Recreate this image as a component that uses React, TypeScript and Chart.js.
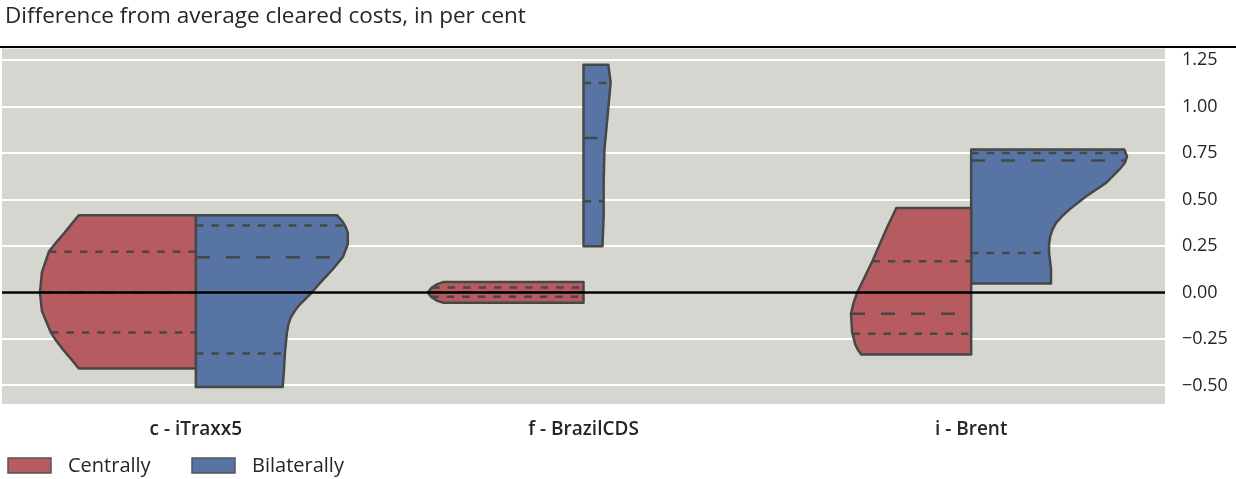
import React, { useEffect, useRef } from "react";
import { Chart, registerables } from "chart.js";

Chart.register(...registerables);

const titleText = "Difference from average cleared costs, in per cent";
const categories = ["c - iTraxx5", "f - BrazilCDS", "i - Brent"];
const seriesNames = ["Centrally", "Bilaterally"];
const seriesColors = ["#b65b5f", "#5774a5"];
const yTicks = [-0.5, -0.25, 0, 0.25, 0.5, 0.75, 1.0, 1.25];

// Kernel density profiles: y levels (per cent) and half-widths (category units)
const itraxxCentralY = [-0.409, -0.36, -0.306, -0.26, -0.215, -0.1, 0.0, 0.11, 0.22, 0.27, 0.321, 0.38, 0.416];
const itraxxCentralW = [0.302, 0.321, 0.343, 0.36, 0.374, 0.397, 0.402, 0.397, 0.379, 0.36, 0.339, 0.316, 0.302];
const itraxxCentralQ = [-0.215, 0.0, 0.219];

const itraxxBilateralY = [-0.509, -0.43, -0.32, -0.215, -0.17, -0.134, -0.1, -0.065, 0.0, 0.05, 0.12, 0.19, 0.26, 0.32, 0.35, 0.38, 0.416];
const itraxxBilateralW = [0.224, 0.227, 0.23, 0.235, 0.239, 0.245, 0.255, 0.268, 0.299, 0.32, 0.351, 0.379, 0.392, 0.392, 0.387, 0.379, 0.364];
const itraxxBilateralQ = [-0.328, 0.19, 0.36];

const brazilCentralY = [-0.055, -0.045, -0.025, 0.0, 0.025, 0.045, 0.057];
const brazilCentralW = [0.361, 0.377, 0.392, 0.402, 0.392, 0.377, 0.361];
const brazilCentralQ = [-0.023, 0.002, 0.027];

const brazilBilateralY = [0.249, 0.41, 0.59, 0.77, 0.946, 1.13, 1.226];
const brazilBilateralW = [0.049, 0.052, 0.052, 0.054, 0.062, 0.07, 0.064];
const brazilBilateralQ = [0.491, 0.832, 1.127];

const brentCentralY = [-0.333, -0.305, -0.28, -0.215, -0.115, -0.06, 0.0, 0.168, 0.35, 0.455];
const brentCentralW = [0.284, 0.293, 0.299, 0.307, 0.31, 0.304, 0.294, 0.255, 0.217, 0.193];
const brentCentralQ = [-0.222, -0.115, 0.168];

const brentBilateralY = [0.048, 0.124, 0.213, 0.26, 0.303, 0.34, 0.375, 0.41, 0.446, 0.518, 0.59, 0.661, 0.7, 0.733, 0.769];
const brentBilateralW = [0.206, 0.206, 0.201, 0.201, 0.204, 0.21, 0.219, 0.234, 0.253, 0.297, 0.348, 0.382, 0.397, 0.402, 0.395];
const brentBilateralQ = [0.213, 0.71, 0.751];

type Half = { cat: number; series: number; ys: number[]; ws: number[]; q: number[] };

const halves: Half[] = [
  { cat: 0, series: 0, ys: itraxxCentralY, ws: itraxxCentralW, q: itraxxCentralQ },
  { cat: 0, series: 1, ys: itraxxBilateralY, ws: itraxxBilateralW, q: itraxxBilateralQ },
  { cat: 1, series: 0, ys: brazilCentralY, ws: brazilCentralW, q: brazilCentralQ },
  { cat: 1, series: 1, ys: brazilBilateralY, ws: brazilBilateralW, q: brazilBilateralQ },
  { cat: 2, series: 0, ys: brentCentralY, ws: brentCentralW, q: brentCentralQ },
  { cat: 2, series: 1, ys: brentBilateralY, ws: brentBilateralW, q: brentBilateralQ },
];

const FONT = '"Open Sans", "Noto Sans", sans-serif';
const TEXT = "#262626";
const EDGE = "#474747";

// half-width of a profile at a given level
function widthAt(ys: number[], ws: number[], v: number): number {
  if (v <= ys[0]) return ws[0];
  for (let i = 0; i < ys.length - 1; i++) {
    if (v >= ys[i] && v <= ys[i + 1]) {
      const t = (v - ys[i]) / (ys[i + 1] - ys[i]);
      return ws[i] + t * (ws[i + 1] - ws[i]);
    }
  }
  return ws[ws.length - 1];
}

function buildDatasets() {
  const sets: any[] = [];
  halves.forEach((h) => {
    const side = h.series === 0 ? -1 : 1;
    const c = h.cat;
    const pts: { x: number; y: number }[] = [{ x: c, y: h.ys[0] }];
    h.ys.forEach((y, i) => pts.push({ x: c + side * h.ws[i], y }));
    pts.push({ x: c, y: h.ys[h.ys.length - 1] });
    pts.push({ x: c, y: h.ys[0] });
    sets.push({
      label: seriesNames[h.series],
      data: pts,
      showLine: true,
      fill: "shape",
      backgroundColor: seriesColors[h.series],
      borderColor: EDGE,
      borderWidth: 2.5,
      borderJoinStyle: "round",
      pointRadius: 0,
      pointHoverRadius: 0,
      tension: 0,
      order: 2,
    });
    h.q.forEach((qv, k) => {
      const w = widthAt(h.ys, h.ws, qv);
      const a = side < 0 ? c - w : c;
      const b = side < 0 ? c : c + w;
      sets.push({
        label: seriesNames[h.series] + " quartile",
        data: [
          { x: a, y: qv },
          { x: b, y: qv },
        ],
        showLine: true,
        fill: false,
        borderColor: EDGE,
        borderWidth: 2.5,
        borderDash: k === 1 ? [14, 16] : [7.5, 8],
        pointRadius: 0,
        pointHoverRadius: 0,
        order: 1,
      });
    });
  });
  return sets;
}

const fmt = (v: number) => {
  const s = Math.abs(v).toFixed(2);
  return v < -1e-9 ? "\u2212" + s : s;
};

const decorPlugin = {
  id: "decor",
  beforeDraw(chart: any) {
    const { ctx, chartArea: a } = chart;
    ctx.save();
    ctx.fillStyle = "#d6d6d1";
    ctx.fillRect(a.left, a.top, a.right - a.left, a.bottom - a.top);
    ctx.restore();
  },
  afterDatasetsDraw(chart: any) {
    const { ctx, chartArea: a, scales } = chart;
    const y0 = scales.y.getPixelForValue(0);
    ctx.save();
    ctx.strokeStyle = "#000";
    ctx.lineWidth = 2.5;
    ctx.beginPath();
    ctx.moveTo(a.left, y0);
    ctx.lineTo(a.right, y0);
    ctx.stroke();
    ctx.restore();
  },
  afterDraw(chart: any) {
    const { ctx, width } = chart;
    ctx.save();
    // rule above the plot
    ctx.fillStyle = "#000";
    ctx.fillRect(0, 46, width, 2);
    // heading
    ctx.fillStyle = TEXT;
    ctx.font = `22.5px ${FONT}`;
    ctx.textBaseline = "middle";
    ctx.textAlign = "left";
    ctx.fillText(titleText, 5, 17);
    // legend
    const boxX = [8, 192];
    const textX = [68, 252];
    seriesNames.forEach((name, i) => {
      ctx.fillStyle = seriesColors[i];
      ctx.fillRect(boxX[i], 458, 43, 15);
      ctx.strokeStyle = "#555";
      ctx.lineWidth = 1.5;
      ctx.strokeRect(boxX[i], 458, 43, 15);
      ctx.fillStyle = TEXT;
      ctx.font = `20px ${FONT}`;
      ctx.fillText(name, textX[i], 466);
    });
    ctx.restore();
  },
};

export default function App() {
  const ref = useRef<HTMLCanvasElement | null>(null);
  useEffect(() => {
    document.body.style.margin = "0";
    if (!ref.current) return;
    const chart = new Chart(ref.current, {
      type: "scatter",
      data: { datasets: buildDatasets() },
      options: {
        animation: false,
        responsive: false,
        events: [],
        layout: { padding: { top: 48.5, left: 2, right: 0, bottom: 0 } },
        plugins: {
          legend: { display: false },
          title: { display: false },
          tooltip: { enabled: false },
        },
        scales: {
          x: {
            type: "linear",
            min: -0.5,
            max: 2.5,
            grid: { display: false },
            border: { display: false },
            afterBuildTicks: (s: any) => {
              s.ticks = categories.map((_, i) => ({ value: i }));
            },
            afterFit: (s: any) => {
              s.height = 75;
            },
            ticks: {
              padding: 6,
              autoSkip: false,
              maxRotation: 0,
              color: TEXT,
              font: { family: FONT, size: 19, weight: 600 },
              callback: (v: any) => categories[Math.round(Number(v))] ?? "",
            },
          },
          y: {
            type: "linear",
            position: "right",
            min: -0.6,
            max: 1.313,
            grid: { color: "#ffffff", lineWidth: 2, drawTicks: false },
            border: { display: false },
            afterBuildTicks: (s: any) => {
              s.ticks = yTicks.map((v) => ({ value: v }));
            },
            afterFit: (s: any) => {
              s.width = 71;
            },
            ticks: {
              padding: 17,
              color: TEXT,
              font: { family: FONT, size: 18 },
              callback: (v: any) => fmt(Number(v)),
            },
          },
        },
      },
      plugins: [decorPlugin],
    } as any);
    return () => chart.destroy();
  }, []);
  return <canvas ref={ref} width={1236} height={479} style={{ display: "block" }} />;
}
